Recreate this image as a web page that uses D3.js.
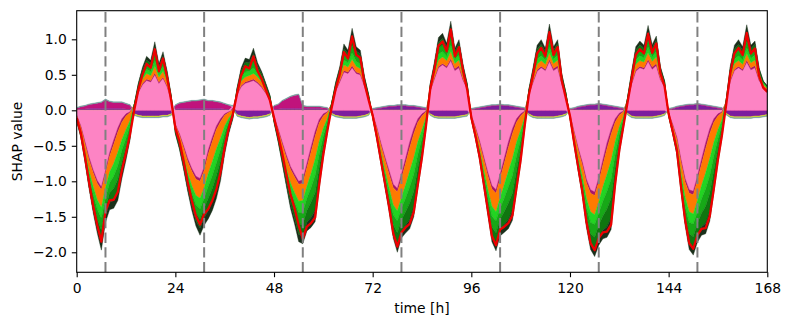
<!DOCTYPE html>
<html><head><meta charset="utf-8">
<script src="https://cdn.jsdelivr.net/npm/d3@7"></script>
<style>body{margin:0;background:#fff}svg{display:block}</style>
</head><body><svg id="c" width="792" height="328"></svg>
<script>
const xTicks = [0,24,48,72,96,120,144,168];
const yTicks = [-2,-1.5,-1,-0.5,0,0.5,1];
const markerHours = [7,31,55,79,103,127,151];

const purple = [
0.01,0.02,0.02,0.03,0.03,0.03,0.03,0.03,0.03,0.03,0.03,0.03,0.02,0.02, -0.05,-0.07,-0.08,-0.08,-0.08,-0.08,-0.08,-0.07,-0.07,-0.05,
0.02,0.03,0.03,0.03,0.03,0.03,0.03,0.03,0.03,0.03,0.03,0.03,0.02,0.02,0.01, -0.06,-0.08,-0.09,-0.1,-0.09,-0.09,-0.08,-0.07,-0.05,
0.02,0.02,0.03,0.03,0.03,0.03,0.03,0.03,0.03,0.03,0.03,0.03,0.02,0.02, -0.04,-0.07,-0.08,-0.09,-0.09,-0.09,-0.09,-0.08,-0.07,-0.05,
0.01,0.02,0.03,0.04,0.05,0.05,0.06,0.06,0.06,0.05,0.05,0.04,0.03,0.02, -0.05,-0.08,-0.09,-0.09,-0.09,-0.09,-0.09,-0.08,-0.07,-0.06,
0.01,0.02,0.03,0.04,0.05,0.06,0.06,0.07,0.06,0.06,0.05,0.04,0.03,0.02, -0.05,-0.08,-0.09,-0.09,-0.09,-0.09,-0.09,-0.08,-0.07,-0.05,
0.01,0.02,0.04,0.05,0.06,0.07,0.07,0.08,0.07,0.06,0.05,0.04,0.03,0.02, -0.04,-0.08,-0.09,-0.09,-0.09,-0.09,-0.09,-0.08,-0.07,-0.05,
0.01,0.02,0.04,0.05,0.06,0.07,0.07,0.08,0.07,0.06,0.05,0.04,0.03,0.02, -0.04,-0.08,-0.09,-0.09,-0.09,-0.09,-0.09,-0.08,-0.08,-0.07,-0.06
];
const magentaA = [
0.02,0.03,0.04,0.05,0.06,0.07,0.08,0.12,0.09,0.08,0.08,0.08,0.07,0.05, 0,0,0,0,0,0,0,0,0,0,
0.05,0.07,0.08,0.09,0.1,0.1,0.11,0.12,0.1,0.1,0.09,0.08,0.07,0.05,0.03, 0,0,0,0,0,0,0,0,0,
0.04,0.06,0.1,0.13,0.16,0.18,0.19,0.03,0.02,0.02,0.02,0.02,0.02,0.01, 0,0,0,0,0,0,0,0,0,0,
0.01,0.01,0.01,0.01,0.01,0.01,0.01,0.01,0.01,0.01,0.01,0.01,0.01,0.01, 0,0,0,0,0,0,0,0,0,0,
0.01,0.01,0.01,0.01,0.01,0.01,0.01,0.01,0.01,0.01,0.01,0.01,0.01,0.01, 0,0,0,0,0,0,0,0,0,0,
0.01,0.01,0.01,0.01,0.01,0.01,0.01,0.01,0.01,0.01,0.01,0.01,0.01,0.01, 0,0,0,0,0,0,0,0,0,0,
0.01,0.01,0.01,0.01,0.01,0.01,0.01,0.01,0.01,0.01,0.01,0.01,0.01,0.01, 0,0,0,0,0,0,0,0,0,0,0
];
const yellow = [
0,0,0,0,0,0,0,0,0,0,0,0,0,0, -0.015,-0.015,-0.015,-0.015,-0.015,-0.015,-0.015,-0.015,-0.015,-0.015,
0,0,0,0,0,0,0,0,0,0,0,0,0,0,0, -0.015,-0.015,-0.015,-0.015,-0.015,-0.015,-0.015,-0.015,-0.015,
0,0,0,0,0,0,0,0,0,0,0,0,0,0, -0.015,-0.015,-0.015,-0.015,-0.015,-0.015,-0.015,-0.015,-0.015,-0.015,
0,0,0,0,0,0,0,0,0,0,0,0,0,0, -0.015,-0.015,-0.015,-0.015,-0.015,-0.015,-0.015,-0.015,-0.015,-0.015,
0,0,0,0,0,0,0,0,0,0,0,0,0,0, -0.015,-0.015,-0.015,-0.015,-0.015,-0.015,-0.015,-0.015,-0.015,-0.015,
0,0,0,0,0,0,0,0,0,0,0,0,0,0, -0.015,-0.015,-0.015,-0.015,-0.015,-0.015,-0.015,-0.015,-0.015,-0.015,
0,0,0,0,0,0,0,0,0,0,0,0,0,0, -0.015,-0.015,-0.015,-0.015,-0.015,-0.015,-0.015,-0.015,-0.015,-0.015,-0.015
];
const pink = [
-0.07,-0.22,-0.44,-0.66,-0.84,-0.99,-1.08,-0.85,-0.6,-0.42,-0.25,-0.12,-0.05,-0.02, 0.07,0.25,0.36,0.42,0.4,0.5,0.38,0.45,0.33,0.14,
-0.2,-0.33,-0.5,-0.68,-0.82,-0.93,-0.96,-0.8,-0.56,-0.38,-0.22,-0.12,-0.05,-0.02,0.02, 0.22,0.33,0.38,0.4,0.42,0.38,0.32,0.24,0.14,
-0.09,-0.26,-0.45,-0.63,-0.79,-0.9,-1.0,-0.98,-0.75,-0.52,-0.3,-0.13,-0.05,-0.02, 0.08,0.27,0.4,0.54,0.52,0.6,0.52,0.5,0.34,0.16,
-0.05,-0.24,-0.46,-0.66,-0.85,-1.04,-1.1,-0.9,-0.68,-0.45,-0.26,-0.12,-0.05,-0.01, 0.27,0.44,0.6,0.64,0.6,0.7,0.56,0.6,0.42,0.3,
-0.07,-0.24,-0.43,-0.65,-0.87,-1.06,-1.12,-0.9,-0.68,-0.45,-0.26,-0.12,-0.05,-0.01, 0.22,0.39,0.55,0.6,0.56,0.69,0.56,0.6,0.37,0.19,
-0.06,-0.3,-0.53,-0.73,-0.97,-1.12,-1.15,-0.95,-0.7,-0.46,-0.27,-0.12,-0.04,-0.01, 0.14,0.37,0.55,0.6,0.58,0.69,0.58,0.63,0.43,0.33,
-0.04,-0.2,-0.38,-0.69,-0.96,-1.12,-1.14,-0.93,-0.69,-0.46,-0.26,-0.12,-0.05,-0.02, 0.12,0.41,0.56,0.6,0.56,0.68,0.57,0.6,0.42,0.33,0.28
];
const magentaB = [
-0.01,-0.02,-0.03,-0.04,-0.04,-0.04,-0.04,-0.04,-0.05,-0.06,-0.06,-0.05,-0.03,-0.01, 0,0.01,0.02,0.02,0.02,0.03,0.02,0.02,0.02,0.01,
-0.01,-0.02,-0.03,-0.04,-0.04,-0.04,-0.04,-0.05,-0.06,-0.06,-0.05,-0.04,-0.02,-0.01,0, 0.01,0.02,0.02,0.02,0.02,0.02,0.02,0.01,0.01,
-0.01,-0.02,-0.03,-0.04,-0.04,-0.04,-0.04,-0.05,-0.06,-0.07,-0.07,-0.05,-0.03,-0.01, 0,0.01,0.02,0.02,0.02,0.03,0.02,0.02,0.02,0.01,
-0.01,-0.02,-0.03,-0.04,-0.05,-0.05,-0.05,-0.06,-0.07,-0.08,-0.07,-0.05,-0.03,-0.01, 0.01,0.02,0.02,0.02,0.02,0.03,0.03,0.03,0.02,0.01,
-0.01,-0.02,-0.03,-0.04,-0.05,-0.05,-0.05,-0.06,-0.07,-0.08,-0.07,-0.05,-0.03,-0.01, 0.01,0.02,0.02,0.02,0.02,0.03,0.03,0.03,0.02,0.01,
-0.01,-0.02,-0.03,-0.04,-0.05,-0.05,-0.05,-0.06,-0.07,-0.08,-0.07,-0.05,-0.03,-0.01, 0,0.02,0.02,0.02,0.02,0.03,0.03,0.03,0.02,0.01,
-0.01,-0.02,-0.03,-0.04,-0.05,-0.05,-0.05,-0.06,-0.07,-0.08,-0.07,-0.05,-0.03,-0.01, 0,0.02,0.02,0.02,0.02,0.03,0.03,0.03,0.02,0.01,0.01
];
const orange = [
-0.03,-0.06,-0.1,-0.15,-0.19,-0.23,-0.25,-0.2,-0.22,-0.27,-0.28,-0.24,-0.19,-0.11, 0.01,0.04,0.06,0.08,0.07,0.09,0.07,0.08,0.06,0.02,
-0.05,-0.08,-0.12,-0.16,-0.2,-0.23,-0.24,-0.24,-0.27,-0.28,-0.27,-0.23,-0.15,-0.08,-0.03, 0.03,0.06,0.07,0.07,0.08,0.07,0.06,0.04,0.02,
-0.03,-0.07,-0.11,-0.15,-0.19,-0.22,-0.24,-0.24,-0.26,-0.3,-0.32,-0.26,-0.17,-0.08, 0.01,0.04,0.06,0.08,0.07,0.09,0.08,0.07,0.04,0.02,
-0.02,-0.07,-0.1,-0.15,-0.19,-0.24,-0.27,-0.27,-0.3,-0.33,-0.34,-0.27,-0.19,-0.07, 0.03,0.06,0.09,0.09,0.08,0.1,0.07,0.08,0.05,0.02,
-0.02,-0.06,-0.09,-0.14,-0.19,-0.24,-0.26,-0.27,-0.3,-0.33,-0.35,-0.28,-0.2,-0.07, 0.025,0.05,0.08,0.08,0.07,0.09,0.07,0.08,0.04,0.02,
-0.02,-0.07,-0.12,-0.16,-0.22,-0.26,-0.27,-0.28,-0.31,-0.36,-0.37,-0.27,-0.16,-0.07, 0.015,0.05,0.08,0.08,0.08,0.09,0.08,0.09,0.05,0.025,
-0.01,-0.05,-0.08,-0.15,-0.21,-0.26,-0.27,-0.28,-0.3,-0.34,-0.35,-0.28,-0.19,-0.1, 0.01,0.06,0.08,0.08,0.07,0.09,0.07,0.08,0.05,0.025,0.02
];
const green1 = [
-0.01,-0.03,-0.05,-0.08,-0.11,-0.13,-0.15,-0.15,-0.15,-0.18,-0.19,-0.15,-0.12,-0.07, 0,0.02,0.04,0.06,0.055,0.08,0.05,0.07,0.04,0.01,
-0.02,-0.04,-0.06,-0.08,-0.1,-0.13,-0.15,-0.15,-0.18,-0.2,-0.2,-0.16,-0.1,-0.05,-0.02, 0.015,0.05,0.07,0.06,0.08,0.05,0.04,0.025,0.015,
-0.01,-0.03,-0.05,-0.08,-0.11,-0.13,-0.16,-0.17,-0.17,-0.2,-0.23,-0.18,-0.11,-0.05, 0.005,0.02,0.04,0.07,0.06,0.09,0.07,0.06,0.025,0.01,
-0.01,-0.03,-0.06,-0.08,-0.11,-0.14,-0.14,-0.15,-0.19,-0.22,-0.23,-0.18,-0.12,-0.04, 0.02,0.04,0.08,0.08,0.06,0.09,0.06,0.07,0.04,0.015,
-0.01,-0.03,-0.05,-0.08,-0.11,-0.14,-0.13,-0.15,-0.19,-0.22,-0.24,-0.19,-0.13,-0.04, 0.015,0.035,0.07,0.07,0.06,0.08,0.06,0.07,0.03,0.01,
-0.01,-0.04,-0.06,-0.09,-0.13,-0.15,-0.14,-0.16,-0.2,-0.24,-0.26,-0.18,-0.1,-0.04, 0.01,0.03,0.06,0.07,0.06,0.08,0.06,0.08,0.04,0.02,
-0.01,-0.03,-0.05,-0.09,-0.13,-0.15,-0.14,-0.16,-0.19,-0.23,-0.24,-0.19,-0.13,-0.07, 0.01,0.04,0.06,0.07,0.06,0.08,0.06,0.07,0.04,0.02,0.015
];
const green2 = [
-0.01,-0.02,-0.04,-0.07,-0.11,-0.14,-0.17,-0.14,-0.14,-0.17,-0.19,-0.16,-0.12,-0.08, 0,0.025,0.045,0.065,0.06,0.09,0.05,0.07,0.04,0.01,
-0.02,-0.03,-0.05,-0.08,-0.1,-0.12,-0.14,-0.14,-0.17,-0.18,-0.18,-0.16,-0.1,-0.06,-0.02, 0.015,0.05,0.07,0.06,0.1,0.055,0.04,0.025,0.01,
-0.01,-0.03,-0.05,-0.07,-0.1,-0.13,-0.16,-0.17,-0.17,-0.2,-0.24,-0.18,-0.11,-0.06, 0,0.02,0.035,0.08,0.065,0.11,0.07,0.07,0.02,0.01,
-0.01,-0.02,-0.04,-0.07,-0.1,-0.14,-0.17,-0.16,-0.19,-0.23,-0.24,-0.19,-0.13,-0.05, 0.02,0.045,0.085,0.09,0.07,0.11,0.06,0.08,0.045,0.015,
-0.01,-0.02,-0.04,-0.07,-0.11,-0.15,-0.17,-0.15,-0.19,-0.23,-0.25,-0.2,-0.14,-0.05, 0.01,0.04,0.075,0.08,0.065,0.1,0.065,0.08,0.025,0.01,
-0.01,-0.03,-0.05,-0.08,-0.12,-0.16,-0.18,-0.17,-0.21,-0.25,-0.27,-0.18,-0.11,-0.05, 0.005,0.03,0.07,0.08,0.07,0.1,0.065,0.085,0.035,0.015,
-0.01,-0.02,-0.04,-0.08,-0.12,-0.16,-0.18,-0.16,-0.2,-0.24,-0.25,-0.2,-0.13,-0.07, 0.005,0.035,0.07,0.08,0.07,0.1,0.07,0.08,0.03,0.015,0.01
];
const green3 = [
-0.01,-0.02,-0.04,-0.07,-0.1,-0.13,-0.17,-0.12,-0.14,-0.17,-0.18,-0.15,-0.12,-0.07, 0,0.025,0.045,0.065,0.06,0.1,0.05,0.08,0.04,0.01,
-0.02,-0.03,-0.04,-0.06,-0.09,-0.11,-0.13,-0.14,-0.17,-0.18,-0.19,-0.17,-0.12,-0.07,-0.03, 0.015,0.05,0.07,0.06,0.1,0.055,0.04,0.025,0.01,
-0.01,-0.02,-0.04,-0.06,-0.09,-0.11,-0.15,-0.16,-0.17,-0.22,-0.25,-0.19,-0.12,-0.06, 0,0.02,0.035,0.08,0.065,0.12,0.075,0.07,0.02,0.01,
0,-0.02,-0.04,-0.06,-0.08,-0.12,-0.17,-0.16,-0.19,-0.23,-0.23,-0.18,-0.12,-0.04, 0.015,0.04,0.085,0.095,0.07,0.12,0.06,0.08,0.04,0.01,
-0.01,-0.02,-0.04,-0.07,-0.09,-0.13,-0.16,-0.15,-0.18,-0.23,-0.24,-0.19,-0.13,-0.04, 0.01,0.035,0.07,0.08,0.06,0.12,0.065,0.08,0.02,0.005,
0,-0.02,-0.05,-0.07,-0.1,-0.14,-0.17,-0.17,-0.2,-0.25,-0.28,-0.18,-0.11,-0.05, 0.005,0.03,0.07,0.075,0.065,0.11,0.065,0.08,0.025,0.01,
0,-0.01,-0.03,-0.06,-0.1,-0.14,-0.17,-0.17,-0.19,-0.24,-0.25,-0.2,-0.13,-0.07, 0,0.035,0.075,0.08,0.07,0.12,0.07,0.07,0.025,0.01,0.005
];
const darkGreen = [
-0.01,-0.01,-0.02,-0.03,-0.05,-0.07,-0.11,-0.08,-0.1,-0.11,-0.12,-0.09,-0.07,-0.05, 0,0.015,0.035,0.05,0.04,0.075,0.035,0.055,0.025,0.005,
-0.01,-0.02,-0.03,-0.04,-0.06,-0.07,-0.1,-0.1,-0.12,-0.13,-0.13,-0.11,-0.08,-0.04,-0.02, 0.01,0.035,0.055,0.045,0.075,0.04,0.025,0.02,0.01,
-0.01,-0.01,-0.02,-0.04,-0.06,-0.07,-0.1,-0.11,-0.12,-0.14,-0.16,-0.11,-0.08,-0.04, 0,0.015,0.025,0.065,0.045,0.115,0.06,0.055,0.01,0.005,
0,-0.01,-0.02,-0.03,-0.05,-0.07,-0.1,-0.1,-0.11,-0.13,-0.13,-0.11,-0.07,-0.03, 0.01,0.03,0.065,0.07,0.045,0.105,0.035,0.055,0.03,0.005,
0,-0.01,-0.02,-0.03,-0.05,-0.08,-0.09,-0.09,-0.11,-0.13,-0.14,-0.12,-0.07,-0.03, 0.005,0.025,0.05,0.065,0.04,0.105,0.045,0.055,0.01,0,
0,-0.01,-0.02,-0.04,-0.06,-0.08,-0.1,-0.11,-0.12,-0.15,-0.16,-0.11,-0.06,-0.03, 0,0.015,0.045,0.05,0.04,0.095,0.045,0.05,0.015,0.005,
0,-0.01,-0.01,-0.03,-0.05,-0.08,-0.09,-0.1,-0.12,-0.15,-0.14,-0.12,-0.08,-0.04, 0,0.025,0.05,0.065,0.045,0.105,0.045,0.045,0.01,0.005,0.005
];
const teal = [
0.01,0.01,0.01,0.01,0.01,0.01,0.01,0.01,0.01,0.01,0.01,0.01,0.01,0.01, -0.01,-0.01,-0.01,-0.01,-0.01,-0.01,-0.01,-0.01,-0.01,-0.01,
0.01,0.01,0.01,0.01,0.01,0.01,0.01,0.01,0.01,0.01,0.01,0.01,0.01,0.01,0.01, -0.01,-0.01,-0.01,-0.01,-0.01,-0.01,-0.01,-0.01,-0.01,
0.01,0.01,0.01,0.01,0.01,0.01,0.01,0.01,0.01,0.01,0.01,0.01,0.01,0.01, -0.01,-0.01,-0.01,-0.01,-0.01,-0.01,-0.01,-0.01,-0.01,-0.01,
0.01,0.01,0.01,0.01,0.01,0.01,0.01,0.01,0.01,0.01,0.01,0.01,0.01,0.01, -0.01,-0.01,-0.01,-0.01,-0.01,-0.01,-0.01,-0.01,-0.01,-0.01,
0.01,0.01,0.01,0.01,0.01,0.01,0.01,0.01,0.01,0.01,0.01,0.01,0.01,0.01, -0.01,-0.01,-0.01,-0.01,-0.01,-0.01,-0.01,-0.01,-0.01,-0.01,
0.01,0.01,0.01,0.01,0.01,0.01,0.01,0.01,0.01,0.01,0.01,0.01,0.01,0.01, -0.01,-0.01,-0.01,-0.01,-0.01,-0.01,-0.01,-0.01,-0.01,-0.01,
0.01,0.01,0.01,0.01,0.01,0.01,0.01,0.01,0.01,0.01,0.01,0.01,0.01,0.01, -0.01,-0.01,-0.01,-0.01,-0.01,-0.01,-0.01,-0.01,-0.01,-0.01,-0.01
];

const seriesList = [
  {key:"purple", values:purple, color:"#7c1d9e"},
  {key:"magentaA", values:magentaA, color:"#c0137c"},
  {key:"yellow", values:yellow, color:"#dede22"},
  {key:"pink", values:pink, color:"#fd84c4"},
  {key:"magentaB", values:magentaB, color:"#a8156c"},
  {key:"orange", values:orange, color:"#ff7a00"},
  {key:"green1", values:green1, color:"#22d422"},
  {key:"green2", values:green2, color:"#17a817"},
  {key:"green3", values:green3, color:"#0f760f"},
  {key:"darkGreen", values:darkGreen, color:"#1a301a"},
  {key:"teal", values:teal, color:"#6f9f9b"}
];

const L = 76.7, R = 767.3, T = 10.7, B = 272.3;
const svg = d3.select("#c");
const N = purple.length;
const hours = d3.range(N);
const keys = seriesList.map(s => s.key);
const rows = hours.map(i => { const r = {h: i}; seriesList.forEach(s => r[s.key] = s.values[i]); return r; });
const net = rows.map(r => d3.sum(keys, k => r[k]));

function offsetDivergingKeep(series, order) {
  const n = series.length, m = series[0].length;
  for (let j = 0; j < m; j++) {
    let yp = 0, yn = 0;
    for (let i = 0; i < n; i++) {
      const d = series[order[i]][j], dy = d[1] - d[0];
      if (dy > 0) { d[0] = yp; d[1] = yp += dy; }
      else if (dy < 0) { d[1] = yn; d[0] = yn += dy; }
      else { const b = net[j] < 0 ? yn : yp; d[0] = b; d[1] = b; }
    }
  }
}
const stacked = d3.stack().keys(keys).offset(offsetDivergingKeep)(rows);

const x = d3.scaleLinear().domain([0,168]).range([L,R]);
const y = d3.scaleLinear().domain([-2.282,1.403]).range([B,T]);

svg.append("defs").append("clipPath").attr("id","clip")
  .append("rect").attr("x",L).attr("y",T).attr("width",R-L).attr("height",B-T);

const plot = svg.append("g").attr("clip-path","url(#clip)");
const area = d3.area().x(d => x(d.data.h)).y0(d => y(d[0])).y1(d => y(d[1]));
stacked.forEach((s, i) => {
  plot.append("path").attr("d", area(s))
    .attr("fill", seriesList[i].color)
    .attr("stroke", seriesList[i].color).attr("stroke-width", 0.4);
});

const line = d3.line().x((d,i) => x(i)).y(d => y(d));
plot.append("path").attr("d", line(net)).attr("fill","none")
  .attr("stroke","#ee0000").attr("stroke-width",2.3).attr("stroke-linejoin","round");

markerHours.forEach(h => {
  plot.append("line").attr("x1",x(h)).attr("x2",x(h)).attr("y1",B).attr("y2",T)
    .attr("stroke","#808080").attr("stroke-width",2).attr("stroke-dasharray","10.3,4.4");
});

const gx = svg.append("g").attr("transform",`translate(0,${B})`)
  .call(d3.axisBottom(x).tickValues(xTicks).tickSize(4.9).tickPadding(6).tickFormat(d3.format("d")));
const gy = svg.append("g").attr("transform",`translate(${L},0)`)
  .call(d3.axisLeft(y).tickValues(yTicks).tickSize(4.9).tickPadding(5).tickFormat(d3.format(".1f")));
[gx, gy].forEach(g => {
  g.select(".domain").remove();
  g.attr("font-size", 13.9).attr("font-family", "DejaVu Sans");
  g.selectAll("line").attr("stroke","#000").attr("stroke-width",1.1);
  g.selectAll("text").attr("fill","#000");
});

svg.append("rect").attr("x",L).attr("y",T).attr("width",R-L).attr("height",B-T)
  .attr("fill","none").attr("stroke","#000").attr("stroke-width",1.1);

svg.append("text").attr("x",(L+R)/2).attr("y",313).attr("text-anchor","middle")
  .attr("font-family","DejaVu Sans").attr("font-size",13.9).text("time [h]");
svg.append("text").attr("transform",`translate(22,${(T+B)/2}) rotate(-90)`).attr("text-anchor","middle")
  .attr("font-family","DejaVu Sans").attr("font-size",13.9).text("SHAP value");
</script>
</body></html>
